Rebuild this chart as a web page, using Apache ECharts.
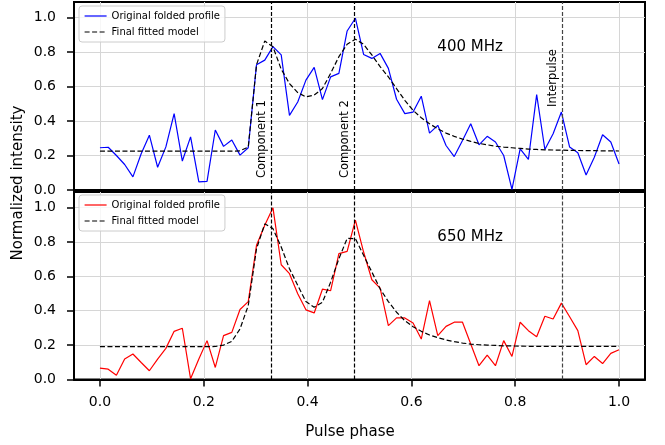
<!DOCTYPE html>
<html>
<head>
<meta charset="utf-8">
<script src="https://cdn.jsdelivr.net/npm/echarts@6/dist/echarts.min.js"></script>
<style>
html,body{margin:0;padding:0;background:#fff;}
#chart{width:665px;height:445px;}
</style>
</head>
<body>
<div id="chart"></div>
<script>
// ---- data ----
var phase = [0, 0.0159, 0.0317, 0.0476, 0.0635, 0.0794, 0.0952, 0.1111, 0.1270, 0.1429, 0.1587, 0.1746, 0.1905, 0.2063, 0.2222, 0.2381, 0.2540, 0.2698, 0.2857, 0.3016, 0.3175, 0.3333, 0.3492, 0.3651, 0.3810, 0.3968, 0.4127, 0.4286, 0.4444, 0.4603, 0.4762, 0.4921, 0.5079, 0.5238, 0.5397, 0.5556, 0.5714, 0.5873, 0.6032, 0.6190, 0.6349, 0.6508, 0.6667, 0.6825, 0.6984, 0.7143, 0.7302, 0.7460, 0.7619, 0.7778, 0.7937, 0.8095, 0.8254, 0.8413, 0.8571, 0.8730, 0.8889, 0.9048, 0.9206, 0.9365, 0.9524, 0.9683, 0.9841, 1.0];

var profile400 = [0.245, 0.248, 0.20, 0.148, 0.076, 0.21, 0.318, 0.132, 0.25, 0.443, 0.168, 0.308, 0.047, 0.05, 0.348, 0.253, 0.29, 0.202, 0.245, 0.726, 0.753, 0.831, 0.783, 0.433, 0.51, 0.637, 0.711, 0.524, 0.656, 0.676, 0.922, 0.996, 0.786, 0.763, 0.792, 0.705, 0.526, 0.443, 0.452, 0.544, 0.33, 0.375, 0.258, 0.194, 0.287, 0.384, 0.262, 0.311, 0.278, 0.2, 0.004, 0.239, 0.177, 0.553, 0.235, 0.326, 0.452, 0.249, 0.216, 0.087, 0.19, 0.32, 0.278, 0.151];

var model400 = [0.225, 0.225, 0.225, 0.225, 0.225, 0.225, 0.225, 0.225, 0.225, 0.225, 0.225, 0.225, 0.225, 0.225, 0.225, 0.225, 0.225, 0.227, 0.249, 0.726, 0.864, 0.83, 0.70, 0.617, 0.565, 0.54, 0.55, 0.588, 0.676, 0.773, 0.845, 0.874, 0.845, 0.783, 0.715, 0.656, 0.588, 0.52, 0.462, 0.419, 0.384, 0.355, 0.33, 0.311, 0.295, 0.282, 0.27, 0.262, 0.254, 0.249, 0.245, 0.241, 0.237, 0.235, 0.233, 0.232, 0.231, 0.23, 0.229, 0.228, 0.228, 0.227, 0.227, 0.226];

var profile650 = [0.066, 0.06, 0.025, 0.119, 0.148, 0.099, 0.051, 0.119, 0.181, 0.28, 0.298, 0.004, 0.119, 0.226, 0.07, 0.255, 0.274, 0.407, 0.453, 0.78, 0.897, 0.998, 0.667, 0.615, 0.498, 0.405, 0.387, 0.525, 0.516, 0.732, 0.745, 0.926, 0.741, 0.58, 0.531, 0.313, 0.358, 0.358, 0.329, 0.235, 0.459, 0.255, 0.309, 0.333, 0.333, 0.206, 0.08, 0.142, 0.08, 0.226, 0.134, 0.333, 0.284, 0.249, 0.368, 0.352, 0.444, 0.365, 0.284, 0.086, 0.134, 0.093, 0.152, 0.173];

var model650 = [0.191, 0.191, 0.191, 0.191, 0.191, 0.191, 0.191, 0.191, 0.191, 0.191, 0.191, 0.191, 0.191, 0.191, 0.192, 0.2, 0.222, 0.294, 0.43, 0.76, 0.905, 0.877, 0.77, 0.644, 0.547, 0.453, 0.42, 0.449, 0.566, 0.702, 0.82, 0.819, 0.722, 0.625, 0.527, 0.453, 0.391, 0.342, 0.307, 0.28, 0.259, 0.243, 0.23, 0.22, 0.212, 0.206, 0.202, 0.2, 0.198, 0.196, 0.195, 0.194, 0.193, 0.193, 0.192, 0.192, 0.192, 0.192, 0.192, 0.192, 0.192, 0.192, 0.192, 0.192];

var xTicks = [0, 0.2, 0.4, 0.6, 0.8, 1.0];
var yTicks = [0, 0.2, 0.4, 0.6, 0.8, 1.0];
var markerPhases = [0.33, 0.49, 0.89];
var markerLabels = ['Component 1', 'Component 2', 'Interpulse'];
var markerLabelStart = [12, 12, 83];
var bandLabels = ['400 MHz', '650 MHz'];
var bandLabelPos = [0.65, 0.83];
var legendNames = ['Original folded profile', 'Final fitted model'];

// ---- build ----
function pairs(xs, ys) { return xs.map(function (x, i) { return [x, ys[i]]; }); }

var FONT = 'DejaVu Sans';

function makeX(idx, showLabels) {
  return {
    type: 'value', gridIndex: idx, min: -0.05, max: 1.05,
    axisLine: { show: true, onZero: false, lineStyle: { color: '#000', width: 2 } },
    axisTick: { show: showLabels, customValues: xTicks, length: 7, lineStyle: { color: '#000', width: 1.5 } },
    axisLabel: { show: showLabels, customValues: xTicks, margin: 16, color: '#000', fontSize: 14, fontFamily: FONT,
      formatter: function (v) { return v.toFixed(1); } },
    splitLine: { show: true, lineStyle: { color: '#d6d6d6', width: 1 } }
  };
}
function makeY(idx) {
  return {
    type: 'value', gridIndex: idx, min: 0, max: 1.09, interval: 0.2,
    axisLine: { show: true, onZero: false, lineStyle: { color: '#000', width: 2 } },
    axisTick: { show: true, customValues: yTicks, length: 7, lineStyle: { color: '#000', width: 1.5 } },
    axisLabel: { show: true, customValues: yTicks, margin: 18, color: '#000', fontSize: 14, fontFamily: FONT,
      formatter: function (v) { return v.toFixed(1); } },
    splitLine: { show: true, lineStyle: { color: '#d6d6d6', width: 1 } }
  };
}
function markLines(withLabels) {
  return {
    silent: true, symbol: 'none', animation: false,
    data: markerPhases.map(function (p, i) {
      return {
        xAxis: p,
        lineStyle: { color: i === 2 ? '#444' : '#000', type: [4, 2], width: 1.2 },
        label: withLabels ? {
          show: true, formatter: markerLabels[i], position: 'insideStartTop',
          distance: [markerLabelStart[i], 3], color: '#000', fontSize: 11.5, fontFamily: FONT
        } : { show: false }
      };
    })
  };
}
function bandMark(i) {
  return {
    silent: true, animation: false,
    data: [{
      coord: [bandLabelPos[0], bandLabelPos[1]], symbol: 'circle', symbolSize: 0,
      itemStyle: { color: 'rgba(0,0,0,0)' },
      label: { show: true, position: 'inside', formatter: bandLabels[i], align: 'left', verticalAlign: 'middle',
        color: '#000', fontSize: 15, fontFamily: FONT }
    }]
  };
}
function legendFor(top, color) {
  return {
    left: 79, top: top, orient: 'vertical', itemWidth: 22, itemHeight: 10, itemGap: 6,
    padding: 5, backgroundColor: 'rgba(255,255,255,0.8)', borderColor: '#cccccc', borderWidth: 1, borderRadius: 3,
    textStyle: { fontSize: 10, fontFamily: FONT, color: '#000' },
    selectedMode: false,
    itemStyle: { opacity: 0, borderWidth: 0 },
    data: [
      { name: legendNames[0], itemStyle: { color: color, opacity: 0, borderWidth: 0 }, lineStyle: { color: color, width: 1.2 } },
      { name: legendNames[1], itemStyle: { opacity: 0, borderWidth: 0 }, lineStyle: { width: 1.2 } }
    ]
  };
}

var chart = echarts.init(document.getElementById('chart'), null, { renderer: 'canvas' });
chart.setOption({
  animation: false,
  backgroundColor: '#fff',
  textStyle: { fontFamily: FONT },
  grid: [
    { left: 74, right: 20, top: 2, height: 188, show: true, borderColor: '#000', borderWidth: 2, backgroundColor: 'transparent' },
    { left: 74, right: 20, top: 192, height: 187.5, show: true, borderColor: '#000', borderWidth: 2, backgroundColor: 'transparent' }
  ],
  xAxis: [makeX(0, false), makeX(1, true)],
  yAxis: [makeY(0), makeY(1)],
  legend: [legendFor(6, '#0000ff'), legendFor(195, '#ff0000')],
  graphic: [
    { type: 'text', x: 18, y: 183, rotation: Math.PI / 2,
      style: { text: 'Normalized intensity', fontSize: 15, fontFamily: FONT, fill: '#000', align: 'center', verticalAlign: 'middle' } },
    { type: 'text', x: 350, y: 432,
      style: { text: 'Pulse phase', fontSize: 15, fontFamily: FONT, fill: '#000', align: 'center', verticalAlign: 'middle' } }
  ],
  series: [
    { name: legendNames[0], type: 'line', xAxisIndex: 0, yAxisIndex: 0, data: pairs(phase, profile400),
      symbol: 'none', showSymbol: false, lineStyle: { color: '#0000ff', width: 1.2 }, itemStyle: { color: '#0000ff' },
      markLine: markLines(true), markPoint: bandMark(0), z: 3 },
    { name: legendNames[1], type: 'line', xAxisIndex: 0, yAxisIndex: 0, data: pairs(phase, model400),
      symbol: 'none', showSymbol: false, lineStyle: { color: '#000', width: 1.2, type: [5, 2.5] }, itemStyle: { color: '#000' }, z: 4 },
    { name: legendNames[0], type: 'line', xAxisIndex: 1, yAxisIndex: 1, data: pairs(phase, profile650),
      symbol: 'none', showSymbol: false, lineStyle: { color: '#ff0000', width: 1.2 }, itemStyle: { color: '#ff0000' },
      markLine: markLines(false), markPoint: bandMark(1), z: 3 },
    { name: legendNames[1], type: 'line', xAxisIndex: 1, yAxisIndex: 1, data: pairs(phase, model650),
      symbol: 'none', showSymbol: false, lineStyle: { color: '#000', width: 1.2, type: [5, 2.5] }, itemStyle: { color: '#000' }, z: 4 }
  ]
});
</script>
</body>
</html>
